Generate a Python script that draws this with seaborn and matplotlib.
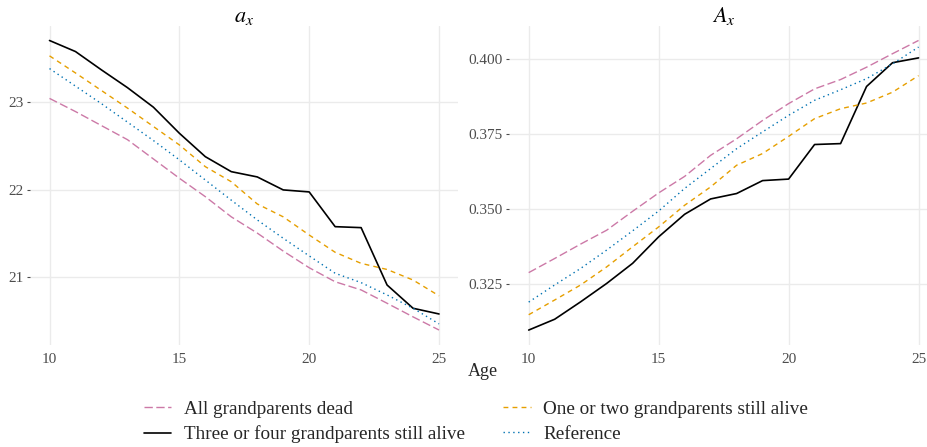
import matplotlib
matplotlib.use("Agg")
import matplotlib.pyplot as plt
import seaborn as sns
import pandas as pd
from matplotlib.lines import Line2D

# ages shown on both panels
ages = list(range(10, 26))

# a_x (left panel)
ax_dead = [23.04, 22.89, 22.73, 22.57, 22.35, 22.13, 21.92, 21.69, 21.505, 21.30,
           21.11, 20.95, 20.857, 20.705, 20.55, 20.40]
ax_three_four = [23.70, 23.574, 23.365, 23.163, 22.94, 22.643, 22.376, 22.205, 22.145, 21.997,
                 21.974, 21.578, 21.567, 20.913, 20.648, 20.583]
ax_one_two = [23.525, 23.33, 23.13, 22.93, 22.72, 22.51, 22.262, 22.09, 21.837, 21.69,
              21.483, 21.286, 21.16, 21.09, 20.97, 20.79]
ax_reference = [23.38, 23.18, 22.98, 22.77, 22.56, 22.34, 22.11, 21.88, 21.655, 21.446,
                21.245, 21.047, 20.94, 20.80, 20.648, 20.47]

# A_x (right panel)
Ax_dead = [0.3289, 0.3336, 0.3384, 0.3430, 0.3493, 0.3554, 0.3609, 0.3679, 0.3734, 0.3795,
           0.3851, 0.3900, 0.3931, 0.3972, 0.4017, 0.4061]
Ax_three_four = [0.3098, 0.3134, 0.3192, 0.3253, 0.3320, 0.3408, 0.3483, 0.3534, 0.3552, 0.3595,
                 0.3600, 0.3715, 0.3718, 0.3908, 0.3987, 0.4003]
Ax_one_two = [0.3149, 0.3198, 0.3248, 0.3308, 0.3375, 0.3441, 0.3513, 0.3574, 0.3646, 0.3685,
              0.3742, 0.3801, 0.3834, 0.3853, 0.3889, 0.3944]
Ax_reference = [0.3191, 0.3248, 0.3303, 0.3364, 0.3428, 0.3494, 0.3569, 0.3635, 0.3701, 0.3757,
                0.3812, 0.3862, 0.3897, 0.3934, 0.3983, 0.4039]

groups = ["All grandparents dead", "Three or four grandparents still alive",
          "One or two grandparents still alive", "Reference"]
palette = {groups[0]: "#CC79A7", groups[1]: "#000000",
           groups[2]: "#E69F00", groups[3]: "#0072B2"}
dashes = {groups[0]: (6, 2.5), groups[1]: "",
          groups[2]: (3.5, 3), groups[3]: (1, 2.5)}
widths = {groups[0]: 1.0, groups[1]: 1.2, groups[2]: 1.0, groups[3]: 1.0}


def long_frame(series):
    rows = []
    for g, vals in zip(groups, series):
        for a, v in zip(ages, vals):
            rows.append({"Age": a, "value": v, "group": g})
    return pd.DataFrame(rows)


df_a = long_frame([ax_dead, ax_three_four, ax_one_two, ax_reference])
df_A = long_frame([Ax_dead, Ax_three_four, Ax_one_two, Ax_reference])

sns.set_theme(style="whitegrid")
plt.rcParams["font.family"] = ["Liberation Serif", "DejaVu Serif"]
plt.rcParams["mathtext.fontset"] = "stix"

fig = plt.figure(figsize=(9.27, 4.47), dpi=100)
ax1 = fig.add_axes([0.0324, 0.2293, 0.4622, 0.7125])
ax2 = fig.add_axes([0.5493, 0.2293, 0.4626, 0.7125])

for ax, df, title in [(ax1, df_a, "$a_x$"), (ax2, df_A, "$A_x$")]:
    sns.lineplot(data=df, x="Age", y="value", hue="group", style="group",
                 palette=palette, dashes=dashes, ax=ax, legend=False)
    for line, g in zip(ax.lines, groups):
        line.set_linewidth(widths[g])
    ax.set_facecolor("white")
    for s in ax.spines.values():
        s.set_visible(False)
    ax.grid(True, color="#EBEBEB", linewidth=1.0)
    ax.set_xlim(9.25, 25.75)
    ax.set_xticks([10, 15, 20, 25])
    ax.set_xlabel("")
    ax.set_ylabel("")
    ax.set_title(title, fontsize=16, pad=3, color="black")
    ax.tick_params(axis="x", length=0, pad=6, labelsize=11, colors="#4D4D4D")
    ax.tick_params(axis="y", length=2.5, width=0.8, pad=2, labelsize=11,
                   colors="#4D4D4D", left=True)

ax1.set_ylim(20.235, 23.865)
ax1.set_yticks([21, 22, 23])
ax2.set_ylim(0.3050, 0.4109)
ax2.set_yticks([0.325, 0.350, 0.375, 0.400])
ax2.set_yticklabels(["0.325", "0.350", "0.375", "0.400"])

fig.text(0.521, 0.168, "Age", ha="center", va="center", fontsize=13)

handles = []
for g in groups:
    h = Line2D([0], [0], color=palette[g], lw=widths[g])
    if dashes[g]:
        h.set_dashes(dashes[g])
    handles.append(h)
fig.legend(handles, groups, ncol=2, loc="center", bbox_to_anchor=(0.5135, 0.056),
           frameon=False, fontsize=13.8, handlelength=1.45, handletextpad=0.65,
           columnspacing=2.0, labelspacing=0.4)

fig.savefig("out.png", dpi=100, facecolor="white")
